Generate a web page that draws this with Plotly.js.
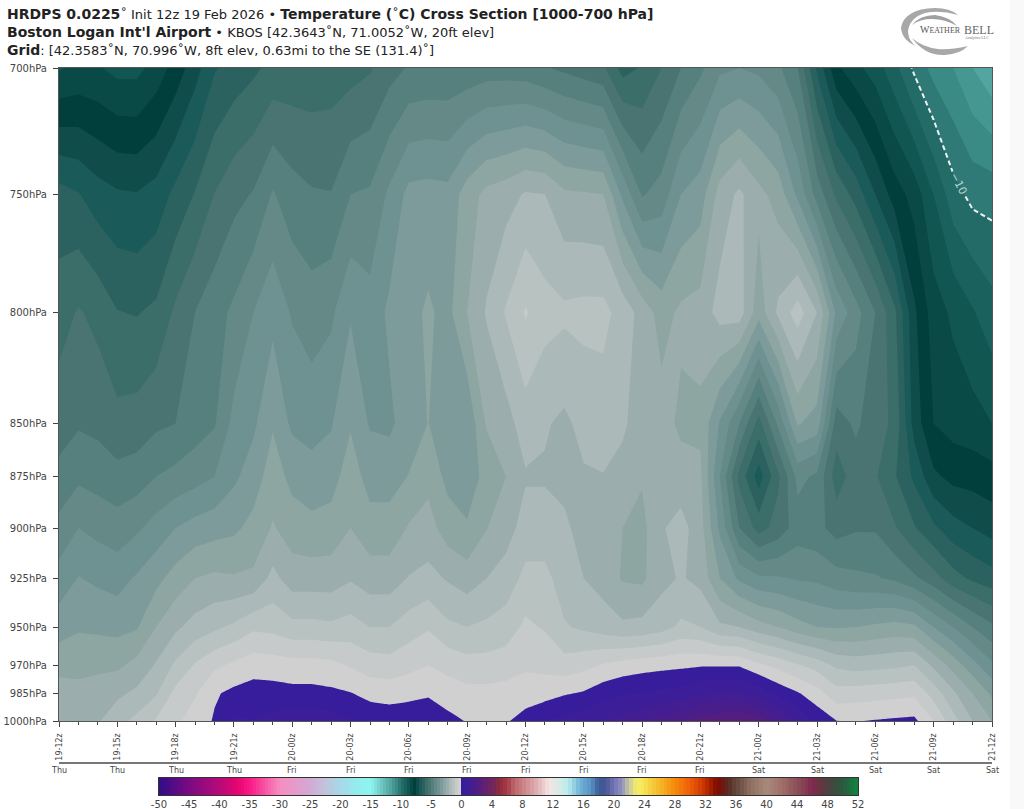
<!DOCTYPE html>
<html><head><meta charset="utf-8">
<script src="https://cdn.plot.ly/plotly-3.0.1.min.js"></script>
<style>html,body{margin:0;padding:0;background:#fff}#c{width:1024px;height:809px}</style>
</head><body><div id="c"></div>
<script>
const pressures=[700,750,800,850,875,900,925,950,970,985,1000];
const hours=[0,1,2,3,4,5,6,7,8,9,10,11,12,13,14,15,16,17,18,19,20,21,22,23,24,25,26,27,28,29,30,31,32,33,34,35,36,37,38,39,40,41,42,43,44,45,46,47,48];
const t700=[-8.55,-8.4,-8.45,-8.65,-8.65,-8.3,-7.8,-7.2,-6.55,-6.3,
 -6.1,-5.85,-5.8,-5.8,-5.75,-5.7,-5.55,-5.2,-4.95,-4.9,
 -4.9,-4.85,-4.75,-4.75,-4.8,-4.97,-5.1,-5.25,-5.4,-6.2,
 -5.95,-5.5,-5.0,-4.6,-4.1,-4.0,-4.1,-4.4,-5.0,-6.6,
 -7.9,-8.35,-8.75,-9.35,-10.1,-10.7,-11.0,-11.5,-11.9];
const t750=[-6.3,-6.47,-6.77,-6.93,-6.97,-6.8,-6.36,-5.97,-5.49,-5.16,
 -4.96,-4.45,-4.8,-4.95,-4.98,-4.5,-4.43,-3.9,-3.35,-3.3,
 -3.35,-2.75,-2.35,-2.2,-1.95,-2.0,-2.4,-2.45,-2.5,-3.6,
 -4.55,-4.3,-3.5,-3.25,-2.3,-1.9,-2.35,-2.7,-3.6,-4.7,
 -5.6,-6.2,-7.0,-7.75,-8.2,-9.0,-9.8,-10.15,-10.2];
const t800=[-5.75,-5.45,-5.65,-5.98,-6.03,-5.9,-5.4,-5.0,-4.7,-4.4,
 -4.0,-3.65,-4.05,-4.25,-4.1,-3.55,-3.8,-3.4,-3.15,-2.93,
 -3.15,-2.5,-1.95,-1.45,-0.95,-1.3,-1.4,-1.35,-1.35,-1.7,
 -2.2,-2.7,-2.4,-2.3,-1.8,-1.75,-2.8,-1.9,-1.25,-2.0,
 -3.6,-4.3,-5.0,-5.9,-7.4,-8.25,-8.6,-8.95,-9.3];
const t850=[-5.19,-5.06,-5.14,-5.35,-5.3,-5.1,-5.0,-4.75,-4.55,-3.85,
 -3.6,-3.05,-3.6,-3.7,-3.55,-3.05,-3.55,-3.6,-3.25,-2.99,
 -3.25,-3.4,-2.45,-2.2,-1.75,-1.95,-2.1,-1.85,-1.75,-1.9,
 -2.3,-2.3,-2.6,-2.6,-3.55,-4.5,-5.7,-4.4,-2.95,-3.2,
 -5.25,-4.9,-5.3,-5.6,-7.2,-8.0,-8.2,-8.3,-8.5];
const t875=[-4.88,-4.6,-4.7,-4.84,-4.75,-4.5,-4.35,-4.2,-4.0,-3.6,
 -3.25,-2.75,-3.15,-3.3,-3.2,-2.75,-3.2,-3.2,-2.98,-2.65,
 -3.15,-3.25,-2.85,-2.5,-2.05,-2.05,-2.15,-2.05,-2.02,-2.2,
 -2.45,-2.3,-2.3,-2.4,-4.0,-5.65,-6.75,-5.6,-4.35,-4.6,
 -5.75,-5.25,-5.45,-5.95,-6.6,-7.4,-7.65,-7.7,-7.8];
const t900=[-4.33,-4.0,-4.15,-4.27,-4.08,-3.8,-3.5,-3.3,-3.2,-3.1,
 -2.85,-2.45,-2.75,-2.85,-2.8,-2.5,-2.8,-2.8,-2.45,-2.3,
 -2.75,-2.95,-2.52,-2.2,-1.8,-1.8,-1.9,-2.2,-2.25,-2.5,
 -2.65,-2.05,-1.8,-2.3,-3.6,-5.0,-5.7,-5.3,-4.75,-4.85,
 -5.2,-5.05,-5.05,-5.45,-5.95,-6.4,-6.8,-7.0,-7.2];
const t925=[-3.8,-3.48,-3.6,-3.7,-3.44,-3.15,-2.8,-2.5,-2.4,-2.45,
 -2.4,-1.85,-2.25,-2.25,-2.25,-2.05,-2.25,-2.25,-1.97,-1.85,
 -2.05,-2.25,-2.0,-1.8,-1.35,-1.35,-1.75,-2.0,-2.2,-2.55,
 -2.6,-2.15,-1.95,-2.15,-3.0,-3.6,-3.9,-3.95,-4.05,-4.1,
 -4.3,-4.4,-4.45,-4.6,-4.9,-5.3,-5.8,-6.1,-6.3];
const t950=[-3.23,-3.06,-3.1,-3.15,-3.05,-2.5,-2.1,-1.8,-1.6,-1.4,
 -1.1,-1.15,-1.35,-1.35,-1.4,-1.3,-1.5,-1.5,-1.25,-1.05,
 -1.4,-1.5,-1.4,-1.25,-0.9,-1.05,-1.45,-1.6,-1.75,-1.9,
 -1.85,-1.7,-1.4,-1.5,-1.9,-2.0,-2.3,-2.5,-2.8,-3.0,
 -3.05,-3.0,-2.9,-2.8,-2.9,-3.5,-4.0,-4.5,-4.9];
const t970=[-2.65,-2.65,-2.6,-2.6,-2.35,-1.95,-1.4,-0.95,-0.6,-0.4,
 -0.2,-0.25,-0.3,-0.3,-0.35,-0.55,-0.75,-0.8,-0.65,-0.5,
 -0.65,-0.8,-0.8,-0.75,-0.58,-0.65,-0.8,-0.65,-0.45,-0.3,
 -0.2,-0.15,-0.1,-0.05,-0.05,-0.05,-0.4,-0.65,-0.95,-1.2,
 -1.6,-1.7,-1.65,-1.6,-1.5,-2.1,-2.7,-3.3,-3.9];
const t985=[-2.3,-2.35,-2.3,-2.1,-1.9,-1.55,-0.85,-0.55,-0.06,0.12,
 0.2,0.2,0.15,0.15,0.1,0.02,-0.15,-0.2,-0.15,-0.07,
 -0.25,-0.35,-0.35,-0.3,-0.25,-0.2,-0.05,0.05,0.3,0.45,
 0.5,0.6,0.7,0.95,1.05,1.05,0.8,0.35,0.05,-0.3,
 -0.8,-0.75,-0.7,-0.65,-0.6,-1.2,-1.9,-2.5,-3.1];
const t1000=[-2.15,-2.1,-2.05,-1.7,-1.35,-0.95,-0.6,-0.28,0.05,0.6,
 0.52,0.65,0.85,0.85,0.75,0.52,0.35,0.3,0.35,0.4,
 0.15,-0.03,-0.02,-0.05,0.2,0.48,0.65,0.8,1.0,1.2,
 1.45,1.75,1.95,2.25,2.4,2.45,2.3,1.7,1.0,0.35,
 0.01,-0.02,0.03,0.08,0.12,-0.5,-1.3,-2.0,-2.5];
const temperature=[t700,t750,t800,t850,t875,t900,t925,t950,t970,t985,t1000];

const pressureTicks=[700,750,800,850,875,900,925,950,970,985,1000];
const pressureLabels=['700hPa','750hPa','800hPa','850hPa','875hPa','900hPa','925hPa','950hPa','970hPa','985hPa','1000hPa'];
const timeTicks=[0,3,6,9,12,15,18,21,24,27,30,33,36,39,42,45,48];
const timeLabels=['19-12z','19-15z','19-18z','19-21z','20-00z','20-03z','20-06z','20-09z','20-12z','20-15z','20-18z','20-21z','21-00z','21-03z','21-06z','21-09z','21-12z'];
const dayLabels=['Thu','Thu','Thu','Thu','Fri','Fri','Fri','Fri','Fri','Fri','Fri','Fri','Sat','Sat','Sat','Sat','Sat'];

const scaleTemps=[-50,-45,-40,-37,-35,-30,-25,-22,-20,-17,-15,-13,-12.25,-11.75,-11.25,-10.75,-10.25,-9.75,-9.25,-8.75,-8.25,-7.75,-7.25,-6.75,-6.25,-5.75,-5.25,-4.75,-4.25,-3.75,-3.25,-2.75,-2.25,-1.75,-1.25,-0.75,-0.25,0.25,0.75,1.25,1.75,2.25,2.75,4,5,6,7,8,10,11.5,12.5,14,15.5,17,18,19,20,21,22,23,24,26,28,30,32,33.5,35,36,38,40,42,44,46,47,48,50,52];
const scaleColors=['#2c0d87','#7b0a82','#b60a7a','#e8056f','#f91a87','#f78ec0','#d3a9d4','#bdc8dc','#a6d8e8','#93eef0','#8df5ef','#6cc0ba','#5cb0aa','#52a5a0','#459792','#3a8a85','#2f7a76','#226b66','#1a605c','#125652','#0a4a46','#003f3c','#0f4c4a','#1a5a58','#2b625f','#3b6d69','#4a7472','#55807d','#648987','#6e9192','#7e9b9b','#8da6a2','#9cadad','#abb9b9','#b8c2c0','#c6caca','#d0d0d0','#371d9b','#3c1e98','#421e92','#4a1e8a','#541e80','#5f1f74','#6e2560','#8f2c3c','#a33a45','#c06a70','#c97e82','#e0b5b8','#f5e3e3','#dfe8e6','#b8ecec','#6fb4d8','#5a92c2','#3a5b96','#4a5694','#7375b2','#9090c0','#c8c8a0','#f8ee6a','#f6e350','#f5b52a','#f58b0a','#ef5d0a','#c23000','#7f0a00','#5a2a24','#63473c','#8f7060','#a88a7c','#a06e6a','#8c4f58','#7e2a50','#6a3340','#4a4040','#2a5a40','#0c8a40'];
const scaleNegTicks=[-50,-45,-40,-35,-30,-25,-20,-15,-10,-5,0];
const scalePosTicks=[4,8,12,16,20,24,28,32,36,40,44,48,52];

const zLo=-50.25,zHi=52.25;
const colorscale=scaleTemps.map((t,i)=>[(t-zLo)/(zHi-zLo),scaleColors[i]]);
colorscale[0][0]=0;colorscale[colorscale.length-1][0]=1;
const barPos=t=>t<0?t:t*1.2607;
const barTemps=[],barEdges=[barPos(-50)];
for(let t=-50;t<52;t+=0.5){barTemps.push(t+0.25);barEdges.push(barPos(t+0.5));}
const font='"DejaVu Sans",sans-serif';
const fx=v=>v/1024, fy=v=>1-v/809;
const B=s=>'<b><span style="font-size:14px">'+s+'</span></b>';

const traces=[
 {type:'contour',x:hours,y:pressures,z:temperature,autocontour:false,colorscale:colorscale,showscale:false,hoverinfo:'skip',
  contours:{coloring:'fill',showlines:false,start:-50,end:52,size:0.5},line:{width:0,smoothing:0}},
 {type:'contour',x:hours,y:pressures,z:temperature,autocontour:false,showscale:false,hoverinfo:'skip',
  contours:{coloring:'none',start:-10,end:-10,size:1,showlabels:true,labelfont:{family:font,size:11,color:'#b9d2d0'}},
  line:{color:'#eef3f3',width:2,dash:'5px,3px',smoothing:0}},
 {type:'heatmap',x:barEdges,y:[0,1],z:[barTemps],xaxis:'x2',yaxis:'y2',zmin:zLo,zmax:zHi,colorscale:colorscale,showscale:false,hoverinfo:'skip'}
];

const ann=[];
const titleLines=[
 [B('HRDPS 0.0225')+'˚ Init 12z 19 Feb 2026 • '+B('Temperature (')+'˚'+B('C) Cross Section [1000-700 hPa]'),14],
 [B("Boston Logan Int'l Airport")+' • KBOS [42.3643˚N, 71.0052˚W, 20ft elev]',32],
 [B('Grid')+': [42.3583˚N, 70.996˚W, 8ft elev, 0.63mi to the SE (131.4)˚]',50]];
titleLines.forEach(l=>ann.push({text:l[0],xref:'paper',yref:'paper',x:fx(5),y:fy(l[1]),xanchor:'left',yanchor:'middle',showarrow:false,font:{family:font,size:13,color:'#222'}}));
timeTicks.forEach((h,i)=>ann.push({text:dayLabels[i],xref:'x',yref:'paper',x:h,y:fy(770),xanchor:'center',yanchor:'middle',showarrow:false,font:{family:font,size:8,color:'#444'}}));
ann.push({text:'W<span style="font-size:8px">EATHER</span>',xref:'paper',yref:'paper',x:fx(918),y:fy(30),xanchor:'left',yanchor:'middle',showarrow:false,font:{family:'"Liberation Serif",serif',size:10,color:'#555'}});
ann.push({text:'BELL',xref:'paper',yref:'paper',x:fx(962),y:fy(30),xanchor:'left',yanchor:'middle',showarrow:false,font:{family:'"Liberation Serif",serif',size:12,color:'#666'}});
ann.push({text:'Analytics LLC',xref:'paper',yref:'paper',x:fx(991),y:fy(37),xanchor:'right',yanchor:'middle',showarrow:false,font:{family:'"Liberation Serif",serif',size:4,color:'#777'}});

const px=(s)=>s.replace(/(-?[\d.]+),(-?[\d.]+)/g,(m,a,b)=>fx(+a).toFixed(5)+','+fy(+b).toFixed(5));
const shapes=[
 {type:'rect',xref:'paper',yref:'paper',x0:fx(1010),x1:1,y0:0,y1:1,fillcolor:'#f9f9f9',line:{width:0},layer:'below'},
 {type:'line',xref:'paper',yref:'paper',x0:fx(59),x1:fx(992),y0:fy(763),y1:fy(763),line:{color:'#777',width:2}},
 {type:'path',xref:'paper',yref:'paper',path:px('M 901,28 Q 904,9 935,8 Q 950,8 958,15 Q 940,10 925,13 Q 909,18 908,32 Q 909,42 916,46 Q 902,40 901,28 Z'),fillcolor:'#a8a8a8',line:{width:0}},
 {type:'path',xref:'paper',yref:'paper',path:px('M 912,38 Q 925,56 945,55 Q 960,54 968,46 Q 950,50 938,49 Q 922,47 912,38 Z'),fillcolor:'#a8a8a8',line:{width:0}},
 {type:'path',xref:'paper',yref:'paper',path:px('M 912,25 Q 920,15 935,15 Q 950,17 957,26 Q 945,19 932,19 Q 920,19 912,25 Z'),fillcolor:'#a0a0a0',line:{width:0}}
];

const layout={
 width:1024,height:809,margin:{l:0,r:0,t:0,b:0,autoexpand:false},paper_bgcolor:'#fff',plot_bgcolor:'#fff',showlegend:false,
 xaxis:{domain:[fx(59),fx(992)],range:[0,48],tickmode:'array',tickvals:timeTicks,ticktext:timeLabels,tickangle:-90,ticks:'outside',ticklen:5,tickcolor:'#444',ticklabelstandoff:3,
  tickfont:{family:font,size:8,color:'#444'},showgrid:false,zeroline:false,showline:true,linecolor:'#555',linewidth:1,mirror:true,
  minor:{tickmode:'array',tickvals:[1,2,4,5,7,8,10,11,13,14,16,17,19,20,22,23,25,26,28,29,31,32,34,35,37,38,40,41,43,44,46,47],ticks:'outside',ticklen:3,tickcolor:'#444',showgrid:false}},
 yaxis:{domain:[fy(721),fy(68)],type:'log',range:[3,Math.log10(700)],tickmode:'array',tickvals:pressureTicks,ticktext:pressureLabels,ticks:'outside',ticklen:5,tickcolor:'#444',ticklabelstandoff:4,
  tickfont:{family:font,size:10,color:'#444'},showgrid:false,zeroline:false,showline:true,linecolor:'#555',linewidth:1,mirror:true},
 xaxis2:{domain:[fx(159),fx(858)],anchor:'y2',range:[-50,barPos(52)],tickmode:'array',
  tickvals:scaleNegTicks.concat(scalePosTicks).map(barPos),ticktext:scaleNegTicks.concat(scalePosTicks).map(String),ticks:'',tickfont:{family:font,size:10,color:'#444'},
  showgrid:false,zeroline:false,showline:true,linecolor:'#333',mirror:true},
 yaxis2:{domain:[fy(795),fy(778)],anchor:'x2',range:[0,1],showticklabels:false,ticks:'',showgrid:false,zeroline:false,showline:true,linecolor:'#333',mirror:true},
 annotations:ann,shapes:shapes
};
Plotly.newPlot('c',traces,layout,{displayModeBar:false,staticPlot:true});
</script></body></html>
